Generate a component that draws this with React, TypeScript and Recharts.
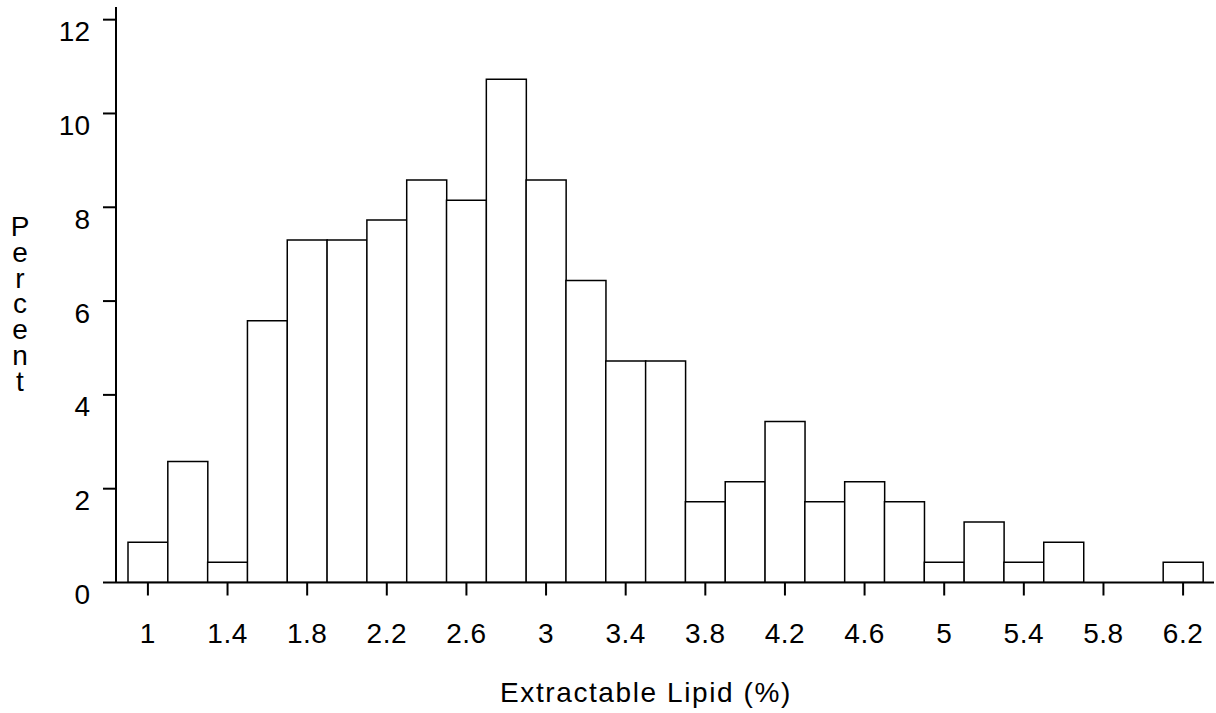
import { BarChart, Bar, XAxis, YAxis } from 'recharts';

// bin midpoints (width 0.2) and percent of samples in each bin
const binMids = [1.0, 1.2, 1.4, 1.6, 1.8, 2.0, 2.2, 2.4, 2.6, 2.8, 3.0, 3.2, 3.4, 3.6, 3.8, 4.0, 4.2, 4.4, 4.6, 4.8, 5.0, 5.2, 5.4, 5.6, 5.8, 6.0, 6.2];
const percents = [0.86, 2.58, 0.43, 5.58, 7.3, 7.3, 7.73, 8.58, 8.15, 10.73, 8.58, 6.44, 4.72, 4.72, 1.72, 2.15, 3.43, 1.72, 2.15, 1.72, 0.43, 1.29, 0.43, 0.86, 0, 0, 0.43];
const yTicks = [0, 2, 4, 6, 8, 10, 12];
const yMax = 12.27;
const xTitle = 'Extractable Lipid (%)';
const yTitle = 'Percent';

const data = binMids.map((mid, i) => ({ mid, pct: percents[i] }));

const FONT = "Arial, 'Liberation Sans', Helvetica, sans-serif";
const line = { stroke: '#000', strokeWidth: 2 };

const XTick = ({ x, y, payload }: any) => (
  <text x={x} y={y + 47.5} textAnchor="middle" fontSize={28} letterSpacing={0.5} fill="#000" fontFamily={FONT}>
    {String(payload.value)}
  </text>
);

const YTick = ({ x, y, payload }: any) => (
  <text x={x - 13} y={y + 21.5} textAnchor="end" fontSize={28} fill="#000" fontFamily={FONT}>
    {String(payload.value)}
  </text>
);

const XTitle = () => (
  <text x={646} y={702} textAnchor="middle" fontSize={28} letterSpacing={1.6} fill="#000" fontFamily={FONT}>
    {xTitle}
  </text>
);

// letters stacked vertically (upright), as in the original
const YTitle = () => (
  <text
    x={20}
    y={211}
    fontSize={28}
    fill="#000"
    fontFamily={FONT}
    letterSpacing={-5.2}
    style={{ writingMode: 'vertical-rl', textOrientation: 'upright' } as any}
  >
    {yTitle}
  </text>
);

export default function App() {
  return (
    <div style={{ position: 'absolute', left: 0, top: 0, background: '#fff', fontFamily: FONT }}>
      <BarChart
        width={1216}
        height={713}
        data={data}
        barCategoryGap={0}
        margin={{ top: 7, right: 2, bottom: 0, left: 0 }}
      >
        <XAxis
          xAxisId="main"
          dataKey="mid"
          type="category"
          interval={1}
          height={130.5}
          padding={{ left: 12, right: 11 }}
          axisLine={line}
          tickLine={line}
          tickSize={13}
          tickMargin={0}
          tick={<XTick />}
          label={{ content: () => <XTitle /> }}
        />
        <XAxis
          xAxisId="top"
          dataKey="mid"
          type="category"
          orientation="top"
          height={0}
          tick={false}
          tickLine={false}
          axisLine={{ stroke: '#000', strokeWidth: 1.5 }}
        />
        <YAxis
          yAxisId="main"
          width={116}
          domain={[0, yMax]}
          ticks={yTicks}
          interval={0}
          allowDataOverflow
          axisLine={line}
          tickLine={line}
          tickSize={13}
          tickMargin={0}
          tick={<YTick />}
          label={{ content: () => <YTitle /> }}
        />
        <YAxis
          yAxisId="right"
          orientation="right"
          width={0}
          domain={[0, yMax]}
          tick={false}
          tickLine={false}
          axisLine={{ stroke: '#000', strokeWidth: 1.5 }}
        />
        <Bar
          xAxisId="main"
          yAxisId="main"
          dataKey="pct"
          fill="#fff"
          stroke="#000"
          strokeWidth={1.5}
          isAnimationActive={false}
        />
      </BarChart>
    </div>
  );
}
